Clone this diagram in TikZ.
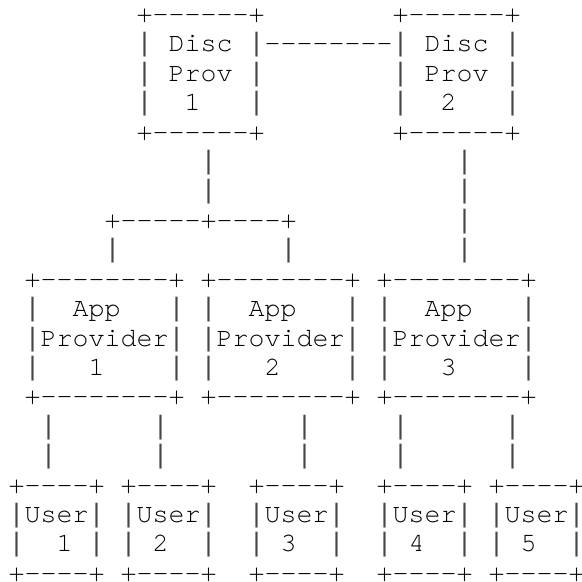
\documentclass[tikz,border=0pt]{standalone}
\usepackage{fontspec}
\setmonofont{TeX Gyre Cursor}
\newfontfamily\barfont{Liberation Mono}
% full-height vertical bar, same advance width as the other characters
\newcommand\vb{{\barfont\color{black!72}|}}
% character grid: column pitch 16 units, row pitch 29.4 units
\newcommand\asciiat[4]{\node[asc] (#1) at ({8.7+16*#2},{22.6+29.4*#3}) {#4};}
\begin{document}
\begin{tikzpicture}[x=0.5pt,y=-0.5pt,
  asc/.style={anchor=base west, inner sep=0pt, outer sep=0pt, text depth=0pt,
    font=\ttfamily\fontsize{13.33}{14}\selectfont, text=black}]
\useasboundingbox (0,0) rectangle (582,582);

% discovery providers
\asciiat{dpA0}{8}{0}{+------+}
\asciiat{dpA1}{8}{1}{\vb~Disc~\vb}
\asciiat{dpA2}{8}{2}{\vb~Prov~\vb}
\asciiat{dpA3}{8}{3}{\vb~~1~~~\vb}
\asciiat{dpA4}{8}{4}{+------+}
\asciiat{dpB0}{24}{0}{+------+}
\asciiat{dpB1}{24}{1}{\vb~Disc~\vb}
\asciiat{dpB2}{24}{2}{\vb~Prov~\vb}
\asciiat{dpB3}{24}{3}{\vb~~2~~~\vb}
\asciiat{dpB4}{24}{4}{+------+}
\asciiat{dpLink}{16}{1}{--------}

% links down to the app providers
\asciiat{lnA5}{12}{5}{\vb}
\asciiat{lnA6}{12}{6}{\vb}
\asciiat{split}{6}{7}{+-----+----+}
\asciiat{lnL8}{6}{8}{\vb}
\asciiat{lnR8}{17}{8}{\vb}
\asciiat{lnB5}{28}{5}{\vb}
\asciiat{lnB6}{28}{6}{\vb}
\asciiat{lnB7}{28}{7}{\vb}
\asciiat{lnB8}{28}{8}{\vb}

% app providers
\asciiat{apA0}{1}{9}{+--------+}
\asciiat{apA1}{1}{10}{\vb~~App~~~\vb}
\asciiat{apA2}{1}{11}{\vb Provider\vb}
\asciiat{apA3}{1}{12}{\vb~~~1~~~~\vb}
\asciiat{apA4}{1}{13}{+--------+}
\asciiat{apB0}{12}{9}{+--------+}
\asciiat{apB1}{12}{10}{\vb~~App~~~\vb}
\asciiat{apB2}{12}{11}{\vb Provider\vb}
\asciiat{apB3}{12}{12}{\vb~~~2~~~~\vb}
\asciiat{apB4}{12}{13}{+--------+}
\asciiat{apC0}{23}{9}{+--------+}
\asciiat{apC1}{23}{10}{\vb~~App~~~\vb}
\asciiat{apC2}{23}{11}{\vb Provider\vb}
\asciiat{apC3}{23}{12}{\vb~~~3~~~~\vb}
\asciiat{apC4}{23}{13}{+--------+}

% links down to the users
\foreach \c/\n in {2/u1,9/u2,18/u3,24/u4,31/u5}{
  \asciiat{ln\n a}{\c}{14}{\vb}
  \asciiat{ln\n b}{\c}{15}{\vb}
}

% users
\foreach \c/\n/\lbl in {0/1/{\vb~~1~\vb},7/2/{\vb~2~~\vb},15/3/{\vb~3~~\vb},23/4/{\vb~4~~\vb},30/5/{\vb~5~~\vb}}{
  \asciiat{us\n t}{\c}{16}{+----+}
  \asciiat{us\n u}{\c}{17}{\vb User\vb}
  \asciiat{us\n n}{\c}{18}{\lbl}
  \asciiat{us\n b}{\c}{19}{+----+}
}
\end{tikzpicture}
\end{document}
